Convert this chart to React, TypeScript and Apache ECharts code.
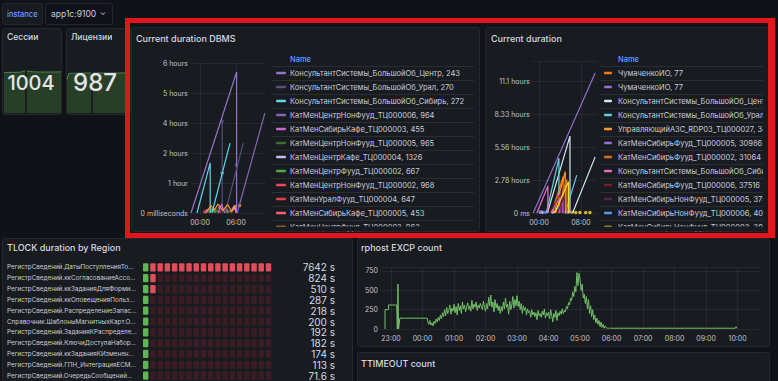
import React, { useEffect, useRef } from 'react';
import * as echarts from 'echarts';

// ---------- data ----------
const statTitles = ['Сессии', 'Лицензии'];
const statValues = [1004, 987];
const sessionsSpark = [[0, 990], [15, 992], [28, 996], [33, 1012], [37, 1025], [39, '-'], [40, 1026], [44, 1020], [50, 1008], [60, 1002], [75, 1000], [90, 1003], [100, 1004]];
const licensesSpark = [[0, 830], [3, 975], [10, 980], [20, 983], [30, 985], [40, 986], [41.5, '-'], [43, 986], [55, 987], [70, 986], [85, 987], [100, 987]];

const dbmsNames = [
  'КонсультантСистемы_БольшойОб_Центр, 243',
  'КонсультантСистемы_БольшойОб_Урал, 270',
  'КонсультантСистемы_БольшойОб_Сибирь, 272',
  'КатМенЦентрНонФууд_ТЦ000006, 964',
  'КатМенСибирьКафе_ТЦ000003, 455',
  'КатМенЦентрНонФууд_ТЦ000005, 965',
  'КатМенЦентрКафе_ТЦ000004, 1326',
  'КатМенЦентрФууд_ТЦ000002, 667',
  'КатМенЦентрНонФууд_ТЦ000002, 968',
  'КатМенУралФууд_ТЦ000004, 647',
  'КатМенСибирьКафе_ТЦ000005, 453',
  'КатМенЦентрФууд_ТЦ000003, 962',
];
const dbmsColors = ['#8e74cc', '#5a4d79', '#5cd6e8', '#8068b5', '#c667d6', '#3b6b33', '#c9b9f2', '#56a64b', '#f2495c', '#e0434f', '#ff5f6d', '#ff9830'];
const dbmsYLabels = ['0 milliseconds', '1 hour', '2 hours', '4 hours', '5 hours', '6 hours'];
const dbmsXTicks = [0, 6];
const dbmsLines: any[] = [
  [[-1.5, 0], [6.1, 4.7], [6.1, 0]],
  [[3.7, 3.07], [3.7, 0], [3.95, '-'], [4.2, 0], [7.2, 2.33]],
  [[-0.5, 0], [1.7, 1.67], [1.7, 0], [1.85, '-'], [2.0, 0], [5.0, 2.33]],
  [[6.2, 0], [10.8, 3.33]],
  [[3.0, 0], [3.6, 0.3], [4.1, 0]],
  [], [], [], [], [], [],
  [[1.0, 0], [1.8, 0.25], [2.4, 0.1], [3.0, 0.3], [3.8, 0.08], [4.6, 0.28], [5.3, 0.05], [5.8, 0.22], [6.0, 0]],
];
const dbmsDots: any[] = [
  [],
  [[3.7, 3.07]],
  [[3.7, 1.33]],
  [[6.1, 1.6]],
  [[1.2, 0.08], [3.3, 0.18], [4.4, 0.1]],
  [[1.5, 0.05], [2.8, 0.1]],
  [[2.2, 0.12], [5.6, 0.15]],
  [[2.5, 0.06], [4.6, 0.05]],
  [[0.8, 0.04], [2.0, 0.1]],
  [[1.8, 0.1], [3.2, 0.05]],
  [[5.2, 0.07]],
  [[5.8, 0.22], [6.6, 0.25]],
];

const cdNames = [
  'ЧумаченкоИО, 77',
  'ЧумаченкоИО, 77',
  'КонсультантСистемы_БольшойОб_Центр, 241',
  'КонсультантСистемы_БольшойОб_Урал, 268',
  'УправляющийАЗС_RDP03_ТЦ000027, 34512',
  'КатМенСибирьФууд_ТЦ000005, 30986',
  'КатМенСибирьФууд_ТЦ000002, 31064',
  'КонсультантСистемы_БольшойОб_Сибирь, 274',
  'КатМенСибирьФууд_ТЦ000006, 37516',
  'КатМенСибирьНонФууд_ТЦ000005, 37518',
  'КатМенСибирьНонФууд_ТЦ000006, 40562',
  'КатМенСибирьНонФууд_ТЦ000003, 39147',
];
const cdColors = ['#ff780a', '#8f6fd0', '#d6e6f5', '#62cde0', '#ff9830', '#8f6fd0', '#d9702a', '#e86ec4', '#7a1e2a', '#5c2055', '#5794f2', '#fade2a'];
const cdXTicks = [0, 8];
const cdLines: any[] = [
  [[2.4, 0], [4.6, 11000], [4.6, 0]],
  [[-1.1, 0], [10.7, 42400]],
  [[1.6, 0], [5.9, 23300], [5.9, 0], [6.1, '-'], [6.4, 0], [10.7, 17000]],
  [[1.4, 0], [3.8, 16600], [3.8, 0], [4.4, '-'], [5.0, 0], [7.2, 11500]],
  [[2.9, 0], [5.0, 12500], [5.0, 0]],
  [[3.6, 0], [4.4, 3500], [4.4, 0]],
  [[3.2, 0], [5.3, 10200], [5.3, 0]],
  [[-0.4, 0], [1.7, 8200], [1.7, 0], [2.2, '-'], [2.4, 0], [4.0, 6200], [4.0, 0]],
  [[2.0, 0], [4.2, 6000], [4.2, 0]],
  [[3.5, 0], [4.8, 5000], [4.8, 0]],
  [],
  [[3.0, 0], [5.6, 9500], [5.6, 0]],
];
const cdDots: any[] = [
  [[5.2, 300]], [], [[0.6, 200], [2.6, 300]], [], [[6.3, 200]], [], [], [[0.3, 250]], [], [], [[0.2, 300], [1.2, 200], [4.8, 400], [5.6, 250]], [[7.0, 150], [7.8, 150], [8.9, 150], [9.7, 150]],
];

const tlockNames = [
  'РегистрСведений.ДатыПоступленияТо...',
  'РегистрСведений.ккСогласованиеАссо...',
  'РегистрСведений.ккЗаданияДляФорми...',
  'РегистрСведений.ккОповещенияПольз...',
  'РегистрСведений.РаспределениеЗапас...',
  'Справочник.ШаблоныМагнитныхКарт.О...',
  'РегистрСведений.ЗаданияКРаспределе...',
  'РегистрСведений.КлючиДоступаНабор...',
  'РегистрСведений.ккЗаданияКИзменен...',
  'РегистрСведений.ГПН_ИнтеграцияЕСМ...',
  'РегистрСведений.ОчередьСообщений...',
];
const tlockValues = [7642, 824, 510, 287, 218, 200, 192, 182, 174, 113, 71.6];
const tlockCells = 18;

const excpHead = [[-1.19, 0], [-1.19, 250], [-1.08, 250], [-1.08, 310], [-0.82, 310], [-0.8, 0], [-0.78, 580], [-0.76, 0], [-0.72, 140], [0.15, 140]];
const excpNoiseStart = 10 / 60;
const excpStep = 2 / 60;
const excpNoise = [
  90, 60, 110, 50, 80, 40, 100, 70, 130, 90,
  150, 110, 180, 130, 210, 160, 250, 170, 280, 200, 240, 310, 190, 270, 230,
  320, 210, 290, 180, 330, 240, 300, 200, 350, 260, 310, 220, 290, 340, 250,
  300, 230, 370, 260, 320, 280, 350, 240, 310, 270, 330, 290, 250, 360, 280,
  230, 330, 260, 410, 300, 440, 280, 350, 220, 380, 270, 330, 240, 300, 200,
  290, 230, 350, 260, 400, 280, 320, 190, 360, 250, 310, 420, 270, 380, 300,
  430, 290, 360, 250, 330, 200, 300, 240, 280, 180, 260, 210, 230, 150, 250,
  180, 220, 160, 210, 120, 240, 170, 200, 150, 230, 180, 260, 140, 210, 170,
  220, 130, 250, 180, 90, 200, 150, 240, 110, 210, 170, 230, 190, 260, 200,
  240, 220, 290, 260, 340, 310, 400, 370, 480, 420, 550, 480, 730, 560, 720,
  640, 500, 580, 400, 450, 330, 420, 260, 380, 200, 300, 160, 250, 120, 180,
  80, 140, 60, 110, 30, 90, 20, 60, 10, 40, 15, 10, 10, 10, 10,
];
const excpTail = [[6.0, 10], [9.93, 10], [9.95, 30], [9.97, 10]];
const excpXTicks = [-1, 0, 1, 2, 3, 4, 5, 6, 7, 8, 9, 10];

// ---------- styles ----------
const FONT = 'Inter';
const TXT = '#ccccdc';
const PAGE = '#111217';
const PANEL = '#181b1f';
const axisText = { color: '#c4c4cc', fontSize: 7, fontFamily: FONT };
const gridLine = { show: true, lineStyle: { color: 'rgba(204,204,220,0.08)', width: 1 } };
const hourFmt = (v: number) => String(((Math.round(v) % 24) + 24) % 24).padStart(2, '0') + ':00';

function txt(x: number, y: number, text: string, size: number, color: string, weight = 400, extra: any = {}) {
  return { type: 'text', x, y, z: 10, style: { text, fill: color, font: `${weight} ${size}px ${FONT}`, textAlign: 'left', verticalAlign: 'middle', ...extra } };
}
function panel(x: number, y: number, w: number, h: number, fill = PANEL) {
  return { type: 'rect', z: -10, shape: { x, y, width: w, height: h, r: 2 }, style: { fill, stroke: '#25272d', lineWidth: 1 } };
}
function cover(x: number, y: number, w: number, h: number, fill: string, z = 20) {
  return { type: 'rect', z, shape: { x, y, width: w, height: h }, style: { fill } };
}

function buildOption() {
  const elements: any[] = [];
  // top bar
  elements.push(panel(2.5, 3.5, 40, 21));
  elements.push(txt(7, 14, 'instance', 7.5, '#6e9fff', 500));
  elements.push(panel(45.5, 3.5, 67, 21, PAGE));
  elements.push(txt(51, 14, 'app1c:9100', 8.5, TXT, 400));
  elements.push({ type: 'polyline', z: 10, shape: { points: [[101, 12.5], [103, 14.5], [105, 12.5]] }, style: { stroke: TXT, lineWidth: 1, fill: 'none' } });
  // stat panels
  elements.push(panel(2.5, 28.5, 59, 86));
  elements.push(panel(66.5, 28.5, 64, 86));
  elements.push(txt(7, 37, statTitles[0], 8.5, '#d8d9e0', 500));
  elements.push(txt(71, 37, statTitles[1], 8.5, '#d8d9e0', 500));
  elements.push(cover(112.5, 31, 12.5, 12, PANEL, 15));
  elements.push(txt(31, 83, String(statValues[0]), 20, '#e4e4e8', 500, { textAlign: 'center' }));
  elements.push(txt(95, 82, String(statValues[1]), 24, '#e4e4e8', 500, { textAlign: 'center' }));
  // big panels
  elements.push(panel(131.5, 27.5, 348, 204));
  elements.push(panel(485.5, 27.5, 290, 204));
  elements.push(panel(2.5, 238.5, 350, 150));
  elements.push(panel(357.5, 238.5, 412, 108));
  elements.push(panel(357.5, 352.5, 412, 40));
  elements.push(txt(136, 38, 'Current duration DBMS', 9, '#d8d9e0', 500));
  elements.push(txt(491, 38, 'Current duration', 9, '#d8d9e0', 500));
  elements.push(txt(7, 247, 'TLOCK duration by Region', 9, '#d8d9e0', 500));
  elements.push(txt(361, 247, 'rphost EXCP count', 9, '#d8d9e0', 500));
  elements.push(txt(361, 363, 'TTIMEOUT count', 9, '#d8d9e0', 500));

  // legends
  const legend = (names: string[], colors: string[], sepX0: number, sepX1: number, swX: number, swW: number, tx: number) => {
    elements.push(txt(tx, 59, 'Name', 7.5, '#6e9fff', 500));
    for (let i = 0; i < 12; i++) {
      const ys = 66 + 14 * i;
      elements.push({ type: 'line', z: 5, shape: { x1: sepX0, y1: ys + 0.5, x2: sepX1, y2: ys + 0.5 }, style: { stroke: 'rgba(204,204,220,0.1)', lineWidth: 1 } });
    }
    names.forEach((n, i) => {
      const y = 73 + 14 * i;
      elements.push({ type: 'rect', z: 10, shape: { x: swX, y: y - 1.25, width: swW, height: 2.5, r: 1 }, style: { fill: colors[i] } });
      elements.push(txt(tx, y, n, 7.5, TXT, 400));
    });
  };
  legend(dbmsNames, dbmsColors, 271, 474, 276, 10, 290);
  legend(cdNames, cdColors, 600, 770, 604, 8, 618);
  // cover the partially scrolled last legend row
  elements.push(cover(270, 226.5, 205, 4.5, PANEL));
  elements.push(cover(598, 226.5, 172, 4.5, PANEL));
  // clip overflowing legend text at the right page edge
  elements.push(cover(775, 0, 5, 240, PAGE, 100));
  elements.push(cover(763, 50, 5, 180, PANEL, 90));

  // red highlight box
  const red = '#e3151c';
  elements.push(cover(125, 18, 650, 5, red, 100));
  elements.push(cover(125, 233, 650, 5, red, 100));
  elements.push(cover(125, 18, 5, 220, red, 100));
  elements.push(cover(768, 18, 7, 220, red, 100));

  // ---------- grids & axes ----------
  const grid = [
    { left: 4, top: 70, width: 57, height: 43 },
    { left: 67, top: 70, width: 60, height: 43 },
    { left: 191, top: 63, width: 74, height: 150 },
    { left: 533, top: 61.2, width: 64, height: 151.8 },
    { left: 382, top: 267.1, width: 378, height: 61.9 },
    { left: 143, top: 262, width: 130, height: 127.6 },
  ];
  const hidden = { show: false };
  const xAxis: any[] = [
    { gridIndex: 0, type: 'value', min: 0, max: 100, ...hidden },
    { gridIndex: 1, type: 'value', min: 0, max: 100, ...hidden },
    {
      gridIndex: 2, type: 'value', min: -1.5, max: 10.83,
      axisLine: { show: false }, axisTick: { show: false, customValues: dbmsXTicks },
      axisLabel: { ...axisText, customValues: dbmsXTicks, formatter: hourFmt, margin: 6 }, splitLine: gridLine,
    },
    {
      gridIndex: 3, type: 'value', min: -1.14, max: 11.05,
      axisLine: { show: false }, axisTick: { show: false, customValues: cdXTicks },
      axisLabel: { ...axisText, customValues: cdXTicks, formatter: hourFmt, margin: 6 }, splitLine: gridLine,
    },
    {
      gridIndex: 4, type: 'value', min: -1.286, max: 10.71,
      axisLine: { show: false }, axisTick: { show: false, customValues: excpXTicks },
      axisLabel: { ...axisText, customValues: excpXTicks, formatter: hourFmt, margin: 6 }, splitLine: gridLine,
    },
    { gridIndex: 5, type: 'value', min: 0, max: tlockValues[0], ...hidden },
  ];
  const yAxis: any[] = [
    { gridIndex: 0, type: 'value', min: 0, max: 1050, ...hidden },
    { gridIndex: 1, type: 'value', min: 0, max: 1061, ...hidden },
    {
      gridIndex: 2, type: 'value', min: 0, max: 5, interval: 1,
      axisLine: { show: false }, axisTick: { show: false },
      axisLabel: { ...axisText, margin: 3, formatter: (v: number) => dbmsYLabels[Math.round(v)] || '' }, splitLine: gridLine,
    },
    {
      gridIndex: 3, type: 'value', min: 0, max: 46000, interval: 10000,
      axisLine: { show: false }, axisTick: { show: false },
      axisLabel: { ...axisText, margin: 3, formatter: (v: number) => (v === 0 ? '0 ms' : v > 40000 ? '' : (v / 3600).toPrecision(3) + ' hours') }, splitLine: gridLine,
    },
    {
      gridIndex: 4, type: 'value', min: 0, max: 800, interval: 250,
      axisLine: { show: false }, axisTick: { show: false },
      axisLabel: { ...axisText, margin: 4, formatter: (v: number) => (v > 750 ? '' : String(v)) }, splitLine: gridLine,
    },
    {
      gridIndex: 5, type: 'category', inverse: true, data: tlockNames,
      axisLine: { show: false }, axisTick: { show: false },
      axisLabel: { color: TXT, fontSize: 6.3, fontFamily: FONT, align: 'left', margin: 136, interval: 0, lineHeight: 8 },
    },
    {
      gridIndex: 5, type: 'category', inverse: true, position: 'right', data: tlockNames,
      axisLine: { show: false }, axisTick: { show: false },
      axisLabel: { color: '#d8d9e0', fontSize: 10, fontFamily: FONT, align: 'right', margin: 62, interval: 0, lineHeight: 10, formatter: (_: string, i: number) => `${tlockValues[i]} s` },
    },
  ];

  const series: any[] = [];
  [sessionsSpark, licensesSpark].forEach((d, i) => {
    series.push({
      type: 'line', xAxisIndex: i, yAxisIndex: i, data: d, showSymbol: false, silent: true,
      lineStyle: { color: '#4f8048', width: 1 }, areaStyle: { color: '#283f27', opacity: 1 },
    });
  });
  const addTs = (names: string[], colors: string[], lines: any[], dots: any[], ax: number) => {
    names.forEach((n, i) => {
      if (lines[i].length) series.push({ type: 'line', name: n, xAxisIndex: ax, yAxisIndex: ax, data: lines[i], showSymbol: false, connectNulls: false, lineStyle: { color: colors[i], width: 1.2 } });
      if (dots[i].length) series.push({ type: 'scatter', name: n, xAxisIndex: ax, yAxisIndex: ax, data: dots[i], symbolSize: 3.5, itemStyle: { color: colors[i] } });
    });
  };
  addTs(dbmsNames, dbmsColors, dbmsLines, dbmsDots, 2);
  addTs(cdNames, cdColors, cdLines, cdDots, 3);

  const excpData = [...excpHead, ...excpNoise.map((v, i) => [excpNoiseStart + i * excpStep, v]), ...excpTail];
  series.push({ type: 'line', name: 'rphost EXCP', xAxisIndex: 4, yAxisIndex: 4, data: excpData, showSymbol: false, lineStyle: { color: '#73bf69', width: 1 } });

  series.push({
    type: 'custom', xAxisIndex: 5, yAxisIndex: 5,
    data: tlockValues.map((v, i) => [v, i]),
    renderItem: (_p: any, api: any) => {
      const v = api.value(0);
      const row = api.value(1);
      const s = api.coord([0, row]);
      const e = api.coord([tlockValues[0], row]);
      const pitch = (e[0] - s[0]) / tlockCells;
      const h = api.size([0, 1])[1] * 0.76;
      const lit = Math.ceil((v / tlockValues[0]) * tlockCells);
      const children: any[] = [];
      for (let c = 0; c < tlockCells; c++) {
        const on = c < lit;
        const fill = c === 0 ? (on ? '#5fb554' : '#22381f') : on ? '#e24d5c' : '#3b1c24';
        children.push({ type: 'rect', shape: { x: s[0] + c * pitch, y: s[1] - h / 2, width: pitch - 1.8, height: h, r: 1 }, style: { fill } });
      }
      return { type: 'group', children };
    },
  });

  return {
    animation: false,
    backgroundColor: PAGE,
    textStyle: { fontFamily: FONT },
    grid, xAxis, yAxis, series,
    graphic: { elements },
  };
}

export default function App() {
  const ref = useRef<HTMLDivElement>(null);
  useEffect(() => {
    const chart = echarts.init(ref.current!, null, { renderer: 'svg' });
    chart.setOption(buildOption() as any);
    return () => chart.dispose();
  }, []);
  return <div ref={ref} style={{ position: 'fixed', left: 0, top: 0, width: 778, height: 381 }} />;
}
